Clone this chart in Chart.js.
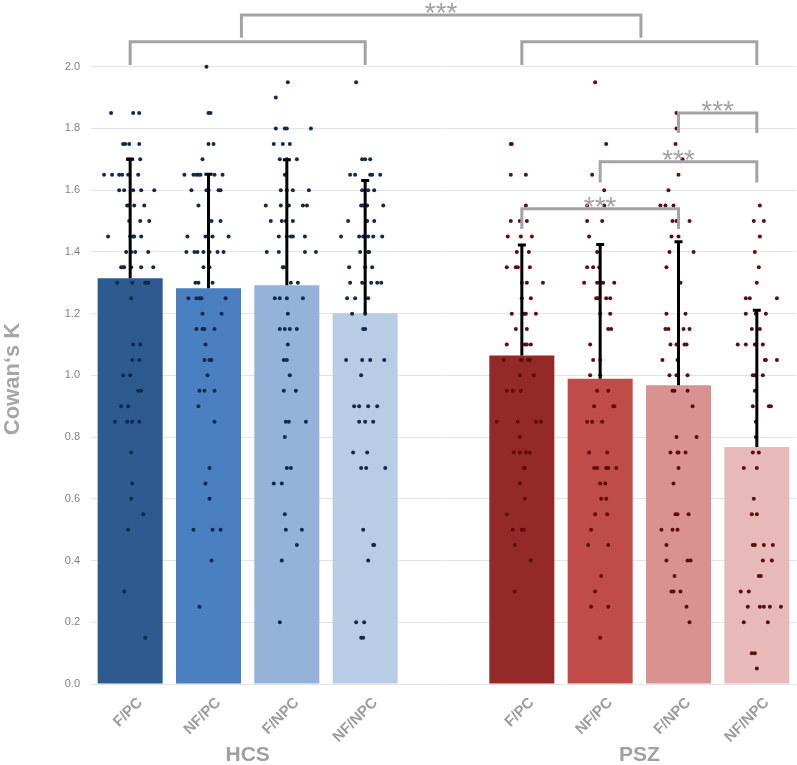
<!DOCTYPE html>
<html>
<head>
<meta charset="utf-8">
<title>Cowan's K — HCS vs PSZ</title>
<script src="https://cdn.jsdelivr.net/npm/chart.js@4.4.1/dist/chart.umd.min.js"></script>
<style>
  html, body { margin: 0; padding: 0; background: #fff; overflow: hidden; }
  #wrap { position: relative; width: 797px; height: 765px; }
</style>
</head>
<body>
<div id="wrap"><canvas id="kChart"></canvas></div>
<script>
/* ------------------------------------------------------------------
   DATA
   Slot 4 is the empty gap between the two groups.
   ------------------------------------------------------------------ */
const categories  = ['F/PC', 'NF/PC', 'F/NPC', 'NF/NPC', '', 'F/PC', 'NF/PC', 'F/NPC', 'NF/NPC'];
const groupLabels = ['HCS', 'PSZ'];
const groupSlots  = [1.5, 6.5];            // group label sits between bars 2 and 3

const meanK   = [1.315, 1.282, 1.292, 1.201, null, 1.064, 0.989, 0.968, 0.768];
const sdUpper = [1.700, 1.652, 1.699, 1.631, null, 1.422, 1.424, 1.433, 1.211];

const yTicks = [0, 0.2, 0.4, 0.6, 0.8, 1.0, 1.2, 1.4, 1.6, 1.8, 2.0];

// individual subjects (K) and their horizontal jitter (1/78 of a slot)
const hcsFpcK = [
  1.85, 1.85, 1.85,
  1.75, 1.75, 1.75, 1.75,
  1.70, 1.70, 1.70,
  1.65, 1.65, 1.65, 1.65, 1.65, 1.65,
  1.60, 1.60, 1.60, 1.60, 1.60,
  1.55, 1.55, 1.55, 1.55,
  1.50, 1.50, 1.50,
  1.45, 1.45, 1.45, 1.45, 1.45,
  1.40, 1.40, 1.40, 1.40,
  1.35, 1.35, 1.35, 1.35, 1.35, 1.35,
  1.30, 1.30, 1.30, 1.30, 1.30,
  1.25,
  1.10, 1.10,
  1.05, 1.05,
  1.00, 1.00,
  0.95, 0.95,
  0.90, 0.90,
  0.85, 0.85, 0.85, 0.85,
  0.75, 0.65, 0.60, 0.55, 0.50, 0.30, 0.15
];
const hcsFpcJit = [
  -19, 3, 9,
  -7, -5, -1, 9,
  -2, 1, 10,
  -26, -18, -11, -8, -2, 8,
  -11, -6, 3, 11, 24,
  -3, -1, 4, 14,
  -1, 10, 19,
  -22, 0, 3, 4, 11,
  -4, 1, 5, 18,
  -9, -7, -6, 1, 11, 23,
  -13, 2, 15, 17, 18,
  1,
  3, 10,
  2, 9,
  -7, 0,
  8, 11,
  -9, -2,
  -15, -3, 2, 9,
  1, 2, 1, 13, -2, -6, 15
];

const hcsNfpcK = [
  2.00,
  1.85, 1.85,
  1.75, 1.75,
  1.70,
  1.65, 1.65, 1.65, 1.65, 1.65, 1.65, 1.65,
  1.60, 1.60, 1.60, 1.60, 1.60,
  1.55,
  1.50, 1.50,
  1.45, 1.45, 1.45, 1.45, 1.45,
  1.40, 1.40, 1.40, 1.40, 1.40, 1.40, 1.40,
  1.35, 1.35,
  1.30, 1.30, 1.30,
  1.25, 1.25, 1.25, 1.25, 1.25,
  1.20, 1.20,
  1.15, 1.15, 1.15, 1.15,
  1.10,
  1.05, 1.05, 1.05,
  1.00,
  0.95, 0.95, 0.95,
  0.90, 0.85, 0.70, 0.65, 0.60,
  0.50, 0.50, 0.50,
  0.40, 0.25
];
const hcsNfpcJit = [
  -2,
  0, 2,
  0, 5,
  -6,
  -24, -15, -12, -10, -8, 6, 14,
  -17, -2, 0, 10, 12,
  -10,
  3, 12,
  -21, -3, 0, 4, 20,
  -22, -14, -11, -5, 1, 9, 15,
  -5, 1,
  -13, -10, 4,
  -20, -12, -9, -7, 17,
  -6, 13,
  -12, -6, -4, 6,
  -3,
  -4, 1, 3,
  -1,
  -9, -4, 6,
  -10, 6, 1, -3, 1,
  -15, 4, 12,
  3, -9
];

const hcsFnpcK = [
  1.95, 1.90,
  1.80, 1.80, 1.80, 1.80,
  1.75, 1.75, 1.75,
  1.70, 1.70, 1.70,
  1.65,
  1.60, 1.60, 1.60, 1.60,
  1.55, 1.55, 1.55, 1.55, 1.55,
  1.50, 1.50, 1.50, 1.50,
  1.45, 1.45, 1.45, 1.45, 1.45,
  1.40, 1.40, 1.40, 1.40,
  1.35, 1.35,
  1.30, 1.30,
  1.25, 1.25, 1.25, 1.25,
  1.20,
  1.15, 1.15, 1.15, 1.15,
  1.10,
  1.05, 1.05,
  1.00,
  0.95, 0.95,
  0.85, 0.85, 0.85,
  0.80,
  0.70, 0.70,
  0.65, 0.65,
  0.55,
  0.50, 0.50,
  0.45, 0.40, 0.20
];
const hcsFnpcJit = [
  1, -11,
  -11, -2, 0, 24,
  -13, -4, 3,
  -7, 0, 10,
  -2,
  -6, 0, 6, 22,
  -21, -6, 2, 16, 20,
  -16, -5, -1, 6,
  -8, 0, 4, 6, 18,
  -20, -8, 18, 29,
  -4, -3,
  4, 11,
  -12, -7, 0, 16,
  1,
  -7, -2, 3, 10,
  1,
  -3, 0,
  3,
  -3, 9,
  -1, 2, 19,
  -2,
  0, 4,
  -13, -5,
  -2,
  -1, 15,
  10, -5, -7
];

const hcsNfnpcK = [
  1.95,
  1.70, 1.70, 1.70,
  1.65, 1.65, 1.65, 1.65, 1.65,
  1.60, 1.60, 1.60,
  1.55, 1.55, 1.55, 1.55,
  1.50, 1.50, 1.50,
  1.45, 1.45, 1.45, 1.45, 1.45, 1.45,
  1.40, 1.40, 1.40,
  1.35, 1.35, 1.35,
  1.30, 1.30, 1.30, 1.30, 1.30,
  1.25, 1.25, 1.25,
  1.20, 1.20,
  1.15, 1.15,
  1.05, 1.05, 1.05, 1.05,
  1.00,
  0.90, 0.90, 0.90, 0.90,
  0.85, 0.85, 0.85,
  0.75, 0.75,
  0.70, 0.70, 0.70,
  0.50,
  0.45, 0.45,
  0.40,
  0.20, 0.20,
  0.15, 0.15
];
const hcsNfnpcJit = [
  -9,
  -3, 0, 5,
  -15, -10, 5, 7, 15,
  -3, 3, 9,
  -4, -2, 2, 18,
  -17, 2, 9,
  -24, -6, -2, 3, 8, 17,
  -5, 3, 4,
  -16, 0, 7,
  -15, -3, 6, 12, 16,
  -18, -10, 3,
  -13, 0,
  -2, 0,
  -19, -3, 5, 19,
  -4,
  -11, -6, 3, 12,
  -6, 0, 8,
  -12, 2,
  -4, 1, 20,
  -2,
  8, 9,
  3,
  -9, -1,
  -4, -2
];

const pszFpcK = [
  1.75, 1.75,
  1.65, 1.65,
  1.55,
  1.50, 1.50, 1.50,
  1.45, 1.45, 1.45,
  1.40, 1.40,
  1.35, 1.35, 1.35, 1.35,
  1.30, 1.30, 1.30,
  1.25, 1.25,
  1.20, 1.20, 1.20, 1.20, 1.20,
  1.15, 1.15,
  1.10, 1.10, 1.10, 1.10,
  1.05, 1.05, 1.05, 1.05, 1.05,
  1.00, 1.00,
  0.95, 0.95, 0.95,
  0.85, 0.85, 0.85, 0.85,
  0.80,
  0.75, 0.75, 0.75, 0.75,
  0.70, 0.70,
  0.65, 0.60, 0.55,
  0.50, 0.50, 0.50,
  0.45, 0.40, 0.30
];
const pszFpcJit = [
  -11, -10,
  -11, 4,
  4,
  -11, -2, 5,
  -14, -1, 10,
  -5, 7,
  -15, -6, -4, 8,
  0, 5, 21,
  0, 9,
  -10, 1, 3, 4, 14,
  -6, 5,
  -15, 3, 5, 9,
  -18, -1, 0, 6, 8,
  -2, 12,
  -15, -9, -1,
  -25, -4, 14, 19,
  -2,
  -8, -2, 4, 8,
  2, 3,
  -2, 3, -15,
  -9, 0, 2,
  -7, 9, -7
];

const pszNfpcK = [
  1.95, 1.75, 1.65, 1.60,
  1.55, 1.55,
  1.50, 1.50,
  1.45, 1.40,
  1.35, 1.35, 1.35,
  1.30, 1.30, 1.30, 1.30, 1.30,
  1.25, 1.25, 1.25, 1.25,
  1.20, 1.20,
  1.15, 1.15,
  1.10,
  1.05, 1.05,
  1.00, 1.00,
  0.95, 0.95,
  0.90, 0.90, 0.90,
  0.85, 0.85, 0.85,
  0.75, 0.75,
  0.70, 0.70, 0.70, 0.70, 0.70,
  0.65, 0.65,
  0.60, 0.60,
  0.55, 0.55,
  0.50,
  0.45, 0.45,
  0.35, 0.30,
  0.25, 0.25,
  0.15
];
const pszNfpcJit = [
  -5, 6, -8, 4,
  -13, 4,
  -13, 2,
  -11, -3,
  -13, -7, -1,
  -16, -3, 0, 3, 14,
  -4, -2, 6, 10,
  0, 10,
  8, 11,
  -10,
  -7, 0,
  -10, 0,
  -3, 8,
  -6, 13, 14,
  -13, -8, 2,
  -11, 7,
  -6, -3, 6, 8, 16,
  0, 5,
  1, 6,
  -5, 7,
  -9,
  -12, 8,
  1, -5,
  -9, 8,
  0
];

const pszFnpcK = [
  1.85, 1.80, 1.75, 1.70, 1.65, 1.60,
  1.55, 1.55, 1.55,
  1.50, 1.50, 1.50,
  1.45, 1.45,
  1.40, 1.40,
  1.35, 1.30,
  1.20, 1.20,
  1.15, 1.15, 1.15, 1.15,
  1.10, 1.10, 1.10, 1.10,
  1.05, 1.05,
  1.00, 1.00, 1.00,
  0.95, 0.95, 0.95,
  0.90,
  0.80, 0.80,
  0.75, 0.75, 0.75, 0.75,
  0.70, 0.65,
  0.55, 0.55, 0.55,
  0.50, 0.50, 0.50,
  0.45,
  0.40, 0.40, 0.40,
  0.35,
  0.30, 0.30, 0.30,
  0.25, 0.20
];
const pszFnpcJit = [
  -2, -2, -3, 4, 0, -10,
  -18, -13, -5,
  -6, -2, 11,
  -7, 0,
  -9, 15,
  -12, 2,
  -12, 7,
  -13, -10, 5, 11,
  -8, -2, 6, 8,
  -16, -1,
  -9, -2, 9,
  -6, -4, 9,
  14,
  -2, 18,
  -8, -1, 0, 7,
  0, -5,
  -3, -1, 10,
  -17, -6, -1,
  -12,
  -12, 9, 12,
  -4,
  -7, -5, 2,
  8, 11
];

const pszNfnpcK = [
  1.55,
  1.50, 1.50,
  1.45, 1.40, 1.35, 1.30,
  1.25, 1.25, 1.25,
  1.20, 1.20, 1.20,
  1.15, 1.15,
  1.10, 1.10, 1.10, 1.10,
  1.05, 1.05, 1.05,
  1.00, 1.00, 1.00,
  0.95,
  0.90, 0.90, 0.90,
  0.85, 0.80,
  0.75, 0.75,
  0.70, 0.70,
  0.60,
  0.55, 0.55,
  0.45, 0.45, 0.45, 0.45,
  0.40, 0.40,
  0.35, 0.35,
  0.30, 0.30,
  0.25, 0.25, 0.25, 0.25, 0.25,
  0.20, 0.20,
  0.10, 0.10,
  0.05
];
const pszNfnpcJit = [
  3,
  -3, 7,
  3, -2, 2, 0,
  -11, -7, 20,
  -11, -1, 9,
  -5, 3,
  -19, -11, -2, 6,
  8, 9, 20,
  -4, -2, 6,
  -2,
  -4, 12, 14,
  -1, -1,
  -4, 2,
  -13, 0,
  -3,
  -5, 0,
  -4, -2, 7, 16,
  6, 15,
  2, 4,
  -16, -8,
  -9, 3, 7, 13, 24,
  -13, 11,
  -5, -2,
  0
];

// significance brackets: slot span, bar height and foot height in K units
const brackets = [
  { from: 0,    to: 3,    top: 2.081, foot: 2.006, mark: '' },
  { from: 5,    to: 8,    top: 2.081, foot: 2.006, mark: '' },
  { from: 1.42, to: 6.52, top: 2.168, foot: 2.094, mark: '***' },
  { from: 5,    to: 7,    top: 1.540, foot: 1.474, mark: '***' },
  { from: 6,    to: 8,    top: 1.692, foot: 1.625, mark: '***' },
  { from: 7,    to: 8,    top: 1.850, foot: 1.785, mark: '***' },
];

/* ------------------------------------------------------------------
   STYLE
   ------------------------------------------------------------------ */
const barColors = ['#2d5b8f', '#4a7fc1', '#95b3d9', '#b8cce6', 'rgba(0,0,0,0)',
                   '#932a29', '#c04c49', '#da9291', '#e8b9b9'];
const hcsDot = '#0e2b4d';
const pszDot = '#5e0c0c';
const bracketGrey = '#a3a3a3';
const JITTER_UNIT = 1 / 78;

const toPoints = (sets) => sets.flatMap(([slot, ks, jit]) => {
  if (ks.length !== jit.length) console.warn('length mismatch in slot', slot);
  return ks.map((k, i) => ({ x: slot + jit[i] * JITTER_UNIT, y: k }));
});

const hcsPoints = toPoints([[0, hcsFpcK, hcsFpcJit], [1, hcsNfpcK, hcsNfpcJit],
                            [2, hcsFnpcK, hcsFnpcJit], [3, hcsNfnpcK, hcsNfnpcJit]]);
const pszPoints = toPoints([[5, pszFpcK, pszFpcJit], [6, pszNfpcK, pszNfpcJit],
                            [7, pszFnpcK, pszFnpcJit], [8, pszNfnpcK, pszNfnpcJit]]);

/* ------------------------------------------------------------------
   OVERLAY: error bars, brackets, group names, y title
   ------------------------------------------------------------------ */
const overlay = {
  id: 'overlay',
  afterDatasetsDraw(chart) {
    const { ctx, scales: { xs, y } } = chart;
    ctx.save();

    // upward SD bars
    ctx.strokeStyle = '#000';
    ctx.lineWidth = 3;
    meanK.forEach((m, i) => {
      if (m === null) return;
      const px = xs.getPixelForValue(i);
      const top = y.getPixelForValue(sdUpper[i]);
      ctx.beginPath();
      ctx.moveTo(px, y.getPixelForValue(m));
      ctx.lineTo(px, top);
      ctx.moveTo(px - 4, top);
      ctx.lineTo(px + 4, top);
      ctx.stroke();
    });

    // brackets
    ctx.strokeStyle = bracketGrey;
    ctx.fillStyle = bracketGrey;
    ctx.lineWidth = 3;
    ctx.lineJoin = 'miter';
    ctx.font = '28px "Liberation Sans", Arial, sans-serif';
    ctx.textAlign = 'center';
    ctx.textBaseline = 'alphabetic';
    brackets.forEach((b) => {
      const x1 = xs.getPixelForValue(b.from);
      const x2 = xs.getPixelForValue(b.to);
      const yt = y.getPixelForValue(b.top);
      const yf = y.getPixelForValue(b.foot);
      ctx.beginPath();
      ctx.moveTo(x1, yf);
      ctx.lineTo(x1, yt);
      ctx.lineTo(x2, yt);
      ctx.lineTo(x2, yf);
      ctx.stroke();
      if (b.mark) ctx.fillText(b.mark, (x1 + x2) / 2, yt + 7);
    });
    ctx.restore();
  },
  afterDraw(chart) {
    const { ctx, chartArea, scales: { xs } } = chart;
    ctx.save();
    ctx.fillStyle = '#a0a0a0';
    ctx.font = 'bold 21px "Liberation Sans", Arial, sans-serif';
    ctx.textAlign = 'center';
    ctx.textBaseline = 'middle';
    groupLabels.forEach((g, i) => {
      ctx.fillText(g, xs.getPixelForValue(groupSlots[i]), chartArea.bottom + 71);
    });

    ctx.fillStyle = '#a6a6a6';
    ctx.font = 'bold 22px "Liberation Sans", Arial, sans-serif';
    ctx.translate(13, 379);
    ctx.rotate(-Math.PI / 2);
    ctx.fillText('Cowan\u2018s K', 0, 0);
    ctx.restore();
  },
};

/* ------------------------------------------------------------------
   CHART
   ------------------------------------------------------------------ */
new Chart(document.getElementById('kChart'), {
  type: 'bar',
  data: {
    labels: categories,
    datasets: [
      {
        type: 'scatter',
        label: 'HCS subjects',
        data: hcsPoints,
        xAxisID: 'xs',
        yAxisID: 'y',
        pointRadius: 2,
        pointBorderWidth: 0,
        backgroundColor: hcsDot,
        order: 1,
      },
      {
        type: 'scatter',
        label: 'PSZ subjects',
        data: pszPoints,
        xAxisID: 'xs',
        yAxisID: 'y',
        pointRadius: 2,
        pointBorderWidth: 0,
        backgroundColor: pszDot,
        order: 1,
      },
      {
        type: 'bar',
        label: "Cowan's K",
        data: meanK,
        xAxisID: 'x',
        yAxisID: 'y',
        backgroundColor: barColors,
        borderWidth: 0,
        grouped: false,            // one bar per slot, centred on it
        barPercentage: 0.83,
        categoryPercentage: 1.0,
        order: 2,
      },
    ],
  },
  options: {
    responsive: true,
    maintainAspectRatio: false,
    animation: false,
    layout: { autoPadding: false, padding: { top: 5, right: 1, bottom: 0, left: 0 } },
    plugins: {
      legend: { display: false },
      tooltip: { enabled: false },
    },
    scales: {
      x: {
        type: 'category',
        position: 'bottom',
        grid: { display: false, drawTicks: false },
        border: { display: false },
        ticks: {
          minRotation: 45,
          maxRotation: 45,
          autoSkip: false,
          labelOffset: 10,
          padding: 10,
          color: '#9c9c9c',
          font: { family: '"Liberation Sans", Arial, sans-serif', size: 15, weight: 'bold' },
        },
        afterFit: (s) => { s.height = 81; s.paddingLeft = 0; s.paddingRight = 0; },
      },
      // hidden helper axis in slot units, used for dots, SD bars and brackets
      xs: {
        type: 'linear',
        position: 'bottom',
        display: false,
        offset: false,
        min: -0.5,
        max: 8.5,
      },
      y: {
        type: 'linear',
        min: 0,
        max: 2.2,
        grid: { color: '#e4e4e4', lineWidth: 1, drawTicks: false },
        border: { display: false },
        afterBuildTicks: (s) => { s.ticks = yTicks.map((v) => ({ value: v })); },
        ticks: {
          padding: 11,
          color: '#7f7f7f',
          font: { family: '"Liberation Sans", Arial, sans-serif', size: 11 },
          callback: (v) => Number(v).toFixed(1),
        },
        afterFit: (s) => { s.width = 91; s.paddingTop = 0; s.paddingBottom = 0; },
      },
    },
  },
  plugins: [overlay],
});
</script>
</body>
</html>
